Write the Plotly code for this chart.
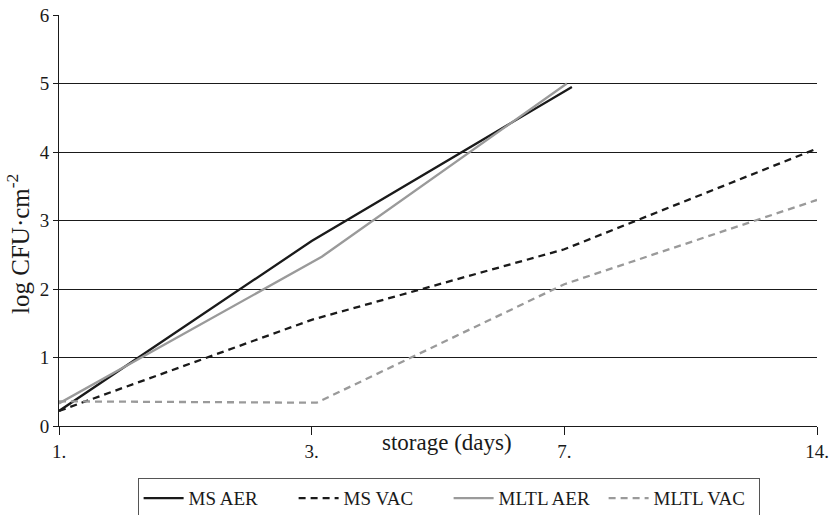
import plotly.graph_objects as go

tick_labels = ["1.", "3.", "7.", "14."]
tick_pos = [0, 1, 2, 3]

ms_aer_x = [0.0, 1.0, 2.03]
ms_aer_y = [0.22, 2.70, 4.95]
ms_vac_x = [0.0, 1.0, 2.0, 3.0]
ms_vac_y = [0.22, 1.55, 2.58, 4.05]
mltl_aer_x = [0.0, 1.04, 2.01]
mltl_aer_y = [0.33, 2.47, 5.00]
mltl_vac_x = [0.0, 1.02, 2.0, 3.0]
mltl_vac_y = [0.36, 0.34, 2.07, 3.30]

FONT = "Liberation Serif"
BLACK = "#1a1a1a"
GREY = "#9a9a9a"

fig = go.Figure()
series = [
    ("MS AER", ms_aer_x, ms_aer_y, BLACK, "solid"),
    ("MS VAC", ms_vac_x, ms_vac_y, BLACK, "7px,5px"),
    ("MLTL AER", mltl_aer_x, mltl_aer_y, GREY, "solid"),
    ("MLTL VAC", mltl_vac_x, mltl_vac_y, GREY, "7px,5px"),
]
for name, x, y, c, d in series:
    fig.add_trace(go.Scatter(x=x, y=y, mode="lines", name=name,
                             line=dict(color=c, width=2.3, dash=d)))

fig.update_layout(
    width=834, height=515,
    margin=dict(l=59, r=17, t=15, b=89, autoexpand=False),
    plot_bgcolor="white", paper_bgcolor="white",
    font=dict(family=FONT, size=19, color=BLACK),
    showlegend=True,
    legend=dict(orientation="h", x=0.514, xanchor="center", y=-0.127, yanchor="top",
                bordercolor="#555555", borderwidth=1, font=dict(size=19, family=FONT),
                entrywidth=100, entrywidthmode="pixels", itemwidth=40),
    xaxis=dict(range=[0, 3], tickmode="array", tickvals=tick_pos, ticktext=tick_labels,
               showgrid=False, zeroline=False, showline=True, linecolor=BLACK, linewidth=1,
               ticks="outside", ticklen=8, tickcolor=BLACK, tickfont=dict(size=19),
               fixedrange=True),
    yaxis=dict(range=[0, 6], dtick=1, showgrid=True, gridcolor=BLACK, gridwidth=1,
               zeroline=False, showline=True, linecolor=BLACK, linewidth=1,
               ticks="outside", ticklen=5, tickcolor=BLACK, tickfont=dict(size=19)),
)
fig.add_annotation(text="storage (days)", x=0.512, xref="paper", y=-0.041, yref="paper",
                   yanchor="middle", xanchor="center", showarrow=False,
                   font=dict(size=23, family=FONT))
fig.add_annotation(text="log CFU·cm<sup>-2</sup>", xref="paper", x=(18 - 59) / 758,
                   y=0.443, yref="paper", xanchor="center", yanchor="middle",
                   textangle=-90, showarrow=False, font=dict(size=25, family=FONT))

fig.write_html("out.html")
